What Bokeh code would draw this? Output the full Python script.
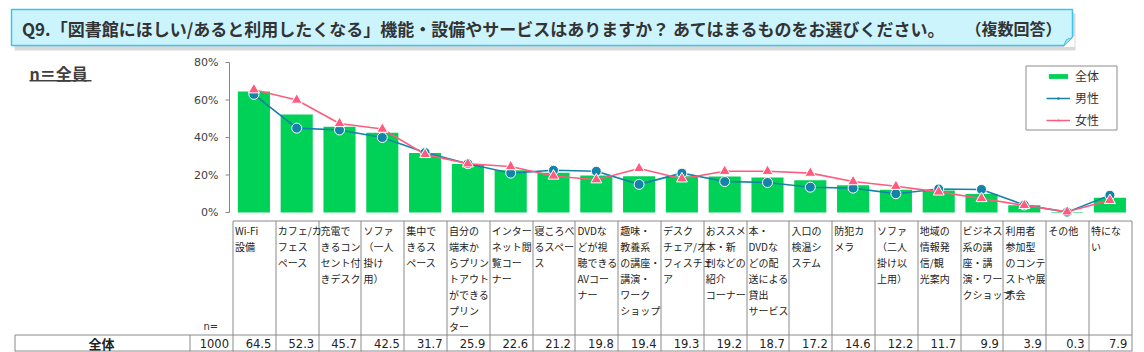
import numpy as np
from bokeh.plotting import figure
from bokeh.models import Range1d, ColumnDataSource, Legend, LegendItem
from bokeh.core.properties import value
from bokeh.embed import file_html
from bokeh.resources import INLINE

# ---------------- data ----------------
categories = [
    "Wi-Fi\n設備",
    "カフェ/カ\nフェス\nペース",
    "充電で\nきるコン\nセント付\nきデスク",
    "ソファ\n（一人\n掛け\n用）",
    "集中で\nきるス\nペース",
    "自分の\n端末か\nらプリン\nトアウト\nができる\nプリン\nター",
    "インター\nネット閲\n覧コー\nナー",
    "寝ころべ\nるスペー\nス",
    "DVDな\nどが視\n聴できる\nAVコー\nナー",
    "趣味・\n教養系\nの講座・\n講演・\nワーク\nショップ",
    "デスク\nチェア/オ\nフィスチェ\nア",
    "おススメ\n本・新\n刊などの\n紹介\nコーナー",
    "本・\nDVDな\nどの配\n送による\n貸出\nサービス",
    "入口の\n検温シ\nステム",
    "防犯カ\nメラ",
    "ソファ\n（二人\n掛け以\n上用）",
    "地域の\n情報発\n信/観\n光案内",
    "ビジネス\n系の講\n座・講\n演・ワー\nクショップ",
    "利用者\n参加型\nのコンテ\nストや展\n示会",
    "その他",
    "特にな\nい",
]
total = [64.5, 52.3, 45.7, 42.5, 31.7, 25.9, 22.6, 21.2, 19.8, 19.4, 19.3,
         19.2, 18.7, 17.2, 14.6, 12.2, 11.7, 9.9, 3.9, 0.3, 7.9]
male = [63.0, 45.0, 44.0, 40.0, 32.0, 26.0, 21.0, 22.5, 22.0, 15.0, 21.0,
        16.5, 16.0, 13.5, 13.0, 10.0, 12.5, 12.3, 4.0, 0.2, 9.2]
female = [65.5, 60.0, 47.5, 44.5, 31.0, 26.0, 24.5, 19.5, 17.5, 23.5, 18.0,
          22.0, 22.0, 21.0, 16.5, 14.0, 11.0, 7.5, 3.8, 0.4, 6.5]
n_total = 1000
y_ticks = [0, 20, 40, 60, 80]
y_tick_labels = ["0%", "20%", "40%", "60%", "80%"]
legend_labels = ["全体", "男性", "女性"]
title_text = "Q9.「図書館にほしい/あると利用したくなる」機能・設備やサービスはありますか？ あてはまるものをお選びください。"
title_note = "（複数回答）"
base_text = "n＝全員"
row_label = "全体"
n_label = "n="

# ---------------- layout ----------------
W, H = 1144, 352
Y0, PXPCT = 212.0, 1.875          # canvas y of 0 %, pixels per percent
COL0, COLW = 232.0, 42.8          # first column left edge, column width
AXX = 229.0                       # y axis line x (canvas px)
ncat = len(categories)
GREEN = "#00d157"
BLUE = "#1483a8"
PINK = "#ff5b7e"
JP = "Noto Sans CJK JP"
GRID = "#8a8a8a"

p = figure(width=W, height=H,
           x_range=Range1d(-COL0 / COLW, (W - COL0) / COLW),
           y_range=Range1d(-(H - Y0) / PXPCT, Y0 / PXPCT),
           min_border=0, x_axis_location=None, y_axis_location=None,
           toolbar_location=None, output_backend="svg")
p.outline_line_color = None
p.xgrid.visible = False
p.ygrid.visible = False
p.extra_x_ranges = {"px": Range1d(0, W)}
p.extra_y_ranges = {"px": Range1d(H, 0)}
PX = dict(x_range_name="px", y_range_name="px")

# ---------------- title box ----------------
p.quad(left=[14], right=[1075], top=[13], bottom=[50], fill_color="#000000",
       fill_alpha=0.15, line_color=None, **PX)
p.quad(left=[11], right=[1072], top=[9], bottom=[45], fill_color="#ccf4fd",
       line_color="#3cc4ec", line_width=1.5, **PX)
p.patch(x=[1063, 1074, 1074], y=[46.5, 46.5, 35], fill_color="white", line_color=None, **PX)
p.patch(x=[1063, 1072, 1066], y=[45.5, 37, 39], fill_color="#a6e4f7",
        line_color="#3cc4ec", line_width=1, **PX)
p.text(x=[21.5], y=[27.5], text=[title_text], text_font=value(JP), text_font_style="bold",
       text_font_size="17px", text_color="#333333", text_baseline="middle", **PX)
p.text(x=[965], y=[27.5], text=[title_note], text_font=value(JP), text_font_style="bold",
       text_font_size="16px", text_color="#333333", text_baseline="middle", **PX)

# n=全員
p.text(x=[29], y=[72.5], text=[base_text], text_font=value(JP), text_font_style="bold",
       text_font_size="16px", text_color="#404040", text_baseline="middle", **PX)
p.quad(left=[29], right=[91], top=[79.5], bottom=[81], fill_color="#404040",
       line_color=None, **PX)

# ---------------- y axis (drawn through the percent scale) ----------------
p.segment(x0=[AXX], y0=[0], x1=[AXX], y1=[y_ticks[-1]], line_color="#868686",
          line_width=1, x_range_name="px")
p.segment(x0=[AXX - 4] * len(y_ticks), y0=y_ticks, x1=[AXX] * len(y_ticks), y1=y_ticks,
          line_color="#868686", line_width=1, x_range_name="px")
p.text(x=[AXX - 11] * len(y_ticks), y=y_ticks, text=y_tick_labels, text_align="right",
       text_baseline="middle", text_font=value("DejaVu Sans"), text_font_size="11px",
       text_color="#404040", x_range_name="px")

# ---------------- bars & lines ----------------
xs = np.arange(ncat) + 0.5
src = ColumnDataSource(dict(x=xs, total=total, male=male, female=female))
bars = p.vbar(x="x", top="total", bottom=0, width=0.75, source=src,
              fill_color=GREEN, line_color=None)
p.line("x", "male", source=src, line_color=BLUE, line_width=1.6)
p.scatter("x", "male", source=src, marker="circle", size=10, fill_color=BLUE,
          line_color="white", line_width=1)
p.line("x", "female", source=src, line_color=PINK, line_width=1.6)
p.scatter("x", "female", source=src, marker="triangle", size=11, fill_color=PINK,
          line_color="white", line_width=1)

# legend-only renderers
nan_src = ColumnDataSource(dict(x=[np.nan, np.nan], y=[np.nan, np.nan]))
lml = p.line("x", "y", source=nan_src, line_color=BLUE, line_width=1.5)
lms = p.scatter("x", "y", source=nan_src, marker="circle", size=5, fill_color=BLUE, line_color=None)
lfl = p.line("x", "y", source=nan_src, line_color=PINK, line_width=1.5)
lfs = p.scatter("x", "y", source=nan_src, marker="triangle", size=6, fill_color=PINK, line_color=None)

legend = Legend(items=[LegendItem(label=legend_labels[0], renderers=[bars]),
                       LegendItem(label=legend_labels[1], renderers=[lml, lms]),
                       LegendItem(label=legend_labels[2], renderers=[lfl, lfs])],
                location=(1046, H - 128.7), orientation="vertical",
                glyph_width=24, glyph_height=6, label_height=18, label_standoff=5,
                spacing=4, padding=0, margin=0, border_line_color=None,
                background_fill_alpha=0, label_text_font=JP, label_text_font_size="12px",
                label_text_color="#333333")
p.add_layout(legend)
p.quad(left=[1025.5], right=[1116.5], top=[65.5], bottom=[129.5], fill_color=None,
       line_color="#8c8c8c", line_width=1, **PX)

# ---------------- table ----------------
x0, y0, x1, y1 = [], [], [], []
for k in range(ncat + 1):
    xv = round(COL0 + COLW * k) + 0.5
    x0.append(xv); y0.append(220.5); x1.append(xv); y1.append(351)
for xv in (14.5, 189.5):
    x0.append(xv); y0.append(334.5); x1.append(xv); y1.append(351)
for (xa, ya) in ((COL0 + 0.5, 220.5), (14.5, 334.5), (14.5, 350.5)):
    x0.append(xa); y0.append(ya); x1.append(round(COL0 + COLW * ncat) + 0.5); y1.append(ya)
p.segment(x0=x0, y0=y0, x1=x1, y1=y1, line_color=GRID, line_width=1, **PX)

# category header labels
p.text(x=[COL0 + COLW * i + 2.5 for i in range(ncat)], y=[222.0] * ncat, text=categories,
       text_align="left", text_baseline="top", text_font=value(JP), text_font_size="10px",
       text_line_height=1.07, text_color="#222222", **PX)

# value row
p.text(x=[COL0 + COLW * (i + 1) - 4 for i in range(ncat)], y=[343] * ncat,
       text=[f"{v:.1f}" for v in total], text_align="right", text_baseline="middle",
       text_font=value("DejaVu Sans"), text_font_size="11.5px", text_color="#222222", **PX)
p.text(x=[228.5], y=[343], text=[str(n_total)], text_align="right", text_baseline="middle",
       text_font=value("DejaVu Sans"), text_font_size="11.5px", text_color="#222222", **PX)
p.text(x=[203], y=[326], text=[n_label], text_align="left", text_baseline="middle",
       text_font=value("DejaVu Sans"), text_font_size="10px", text_color="#333333", **PX)
p.text(x=[101], y=[343], text=[row_label], text_align="center", text_baseline="middle",
       text_font=value(JP), text_font_style="bold", text_font_size="13px",
       text_color="#222222", **PX)

open("out.html", "w").write(file_html(p, INLINE))
